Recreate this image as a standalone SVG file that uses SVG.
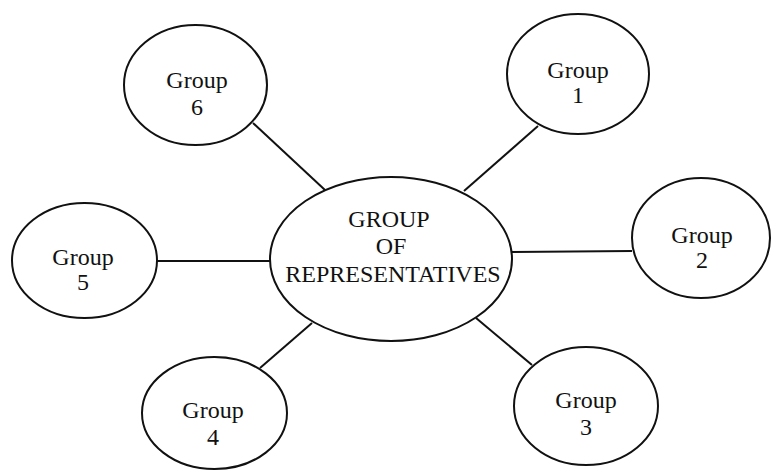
<svg xmlns="http://www.w3.org/2000/svg" width="772" height="472" viewBox="0 0 772 472">
<style>
.n{fill:#fff;stroke:#111;stroke-width:2}
.c{stroke:#111;stroke-width:2;fill:none}
.t{font-family:'Liberation Serif','DejaVu Serif',serif;fill:#111;text-anchor:middle}
.g{font-size:24px}
.m{font-size:24px}
</style>
<rect width="772" height="472" fill="#fff"/>
<g id="connectors">
<line class="c" x1="253" y1="123" x2="325" y2="190"/>
<line class="c" x1="538" y1="126" x2="464" y2="191"/>
<line class="c" x1="512" y1="252" x2="632" y2="251"/>
<line class="c" x1="157" y1="261" x2="270" y2="261"/>
<line class="c" x1="312" y1="323" x2="260" y2="368"/>
<line class="c" x1="476" y1="318" x2="532" y2="365"/>
</g>
<g id="center" class="t">
<ellipse class="n" cx="391" cy="259" rx="121" ry="82"/>
<text class="m" x="389" y="227">GROUP</text>
<text class="m" x="391" y="254">OF</text>
<text class="m" x="393" y="282">REPRESENTATIVES</text>
</g>
<g id="group1" class="t">
<ellipse class="n" cx="578" cy="74" rx="71" ry="60"/>
<text class="g" x="578" y="78">Group</text>
<text class="g" x="578" y="103">1</text>
</g>
<g id="group2" class="t">
<ellipse class="n" cx="701" cy="238" rx="69" ry="60"/>
<text class="g" x="702" y="243">Group</text>
<text class="g" x="702" y="268">2</text>
</g>
<g id="group3" class="t">
<ellipse class="n" cx="586" cy="406" rx="72" ry="59"/>
<text class="g" x="586" y="408">Group</text>
<text class="g" x="586" y="435">3</text>
</g>
<g id="group4" class="t">
<ellipse class="n" cx="214.5" cy="413" rx="72.5" ry="56"/>
<text class="g" x="213" y="418">Group</text>
<text class="g" x="213" y="445">4</text>
</g>
<g id="group5" class="t">
<ellipse class="n" cx="84.5" cy="260.5" rx="72.5" ry="57.5"/>
<text class="g" x="83" y="265">Group</text>
<text class="g" x="83" y="290">5</text>
</g>
<g id="group6" class="t">
<ellipse class="n" cx="195.5" cy="85" rx="71.5" ry="60"/>
<text class="g" x="197" y="88">Group</text>
<text class="g" x="197" y="115">6</text>
</g>
</svg>
